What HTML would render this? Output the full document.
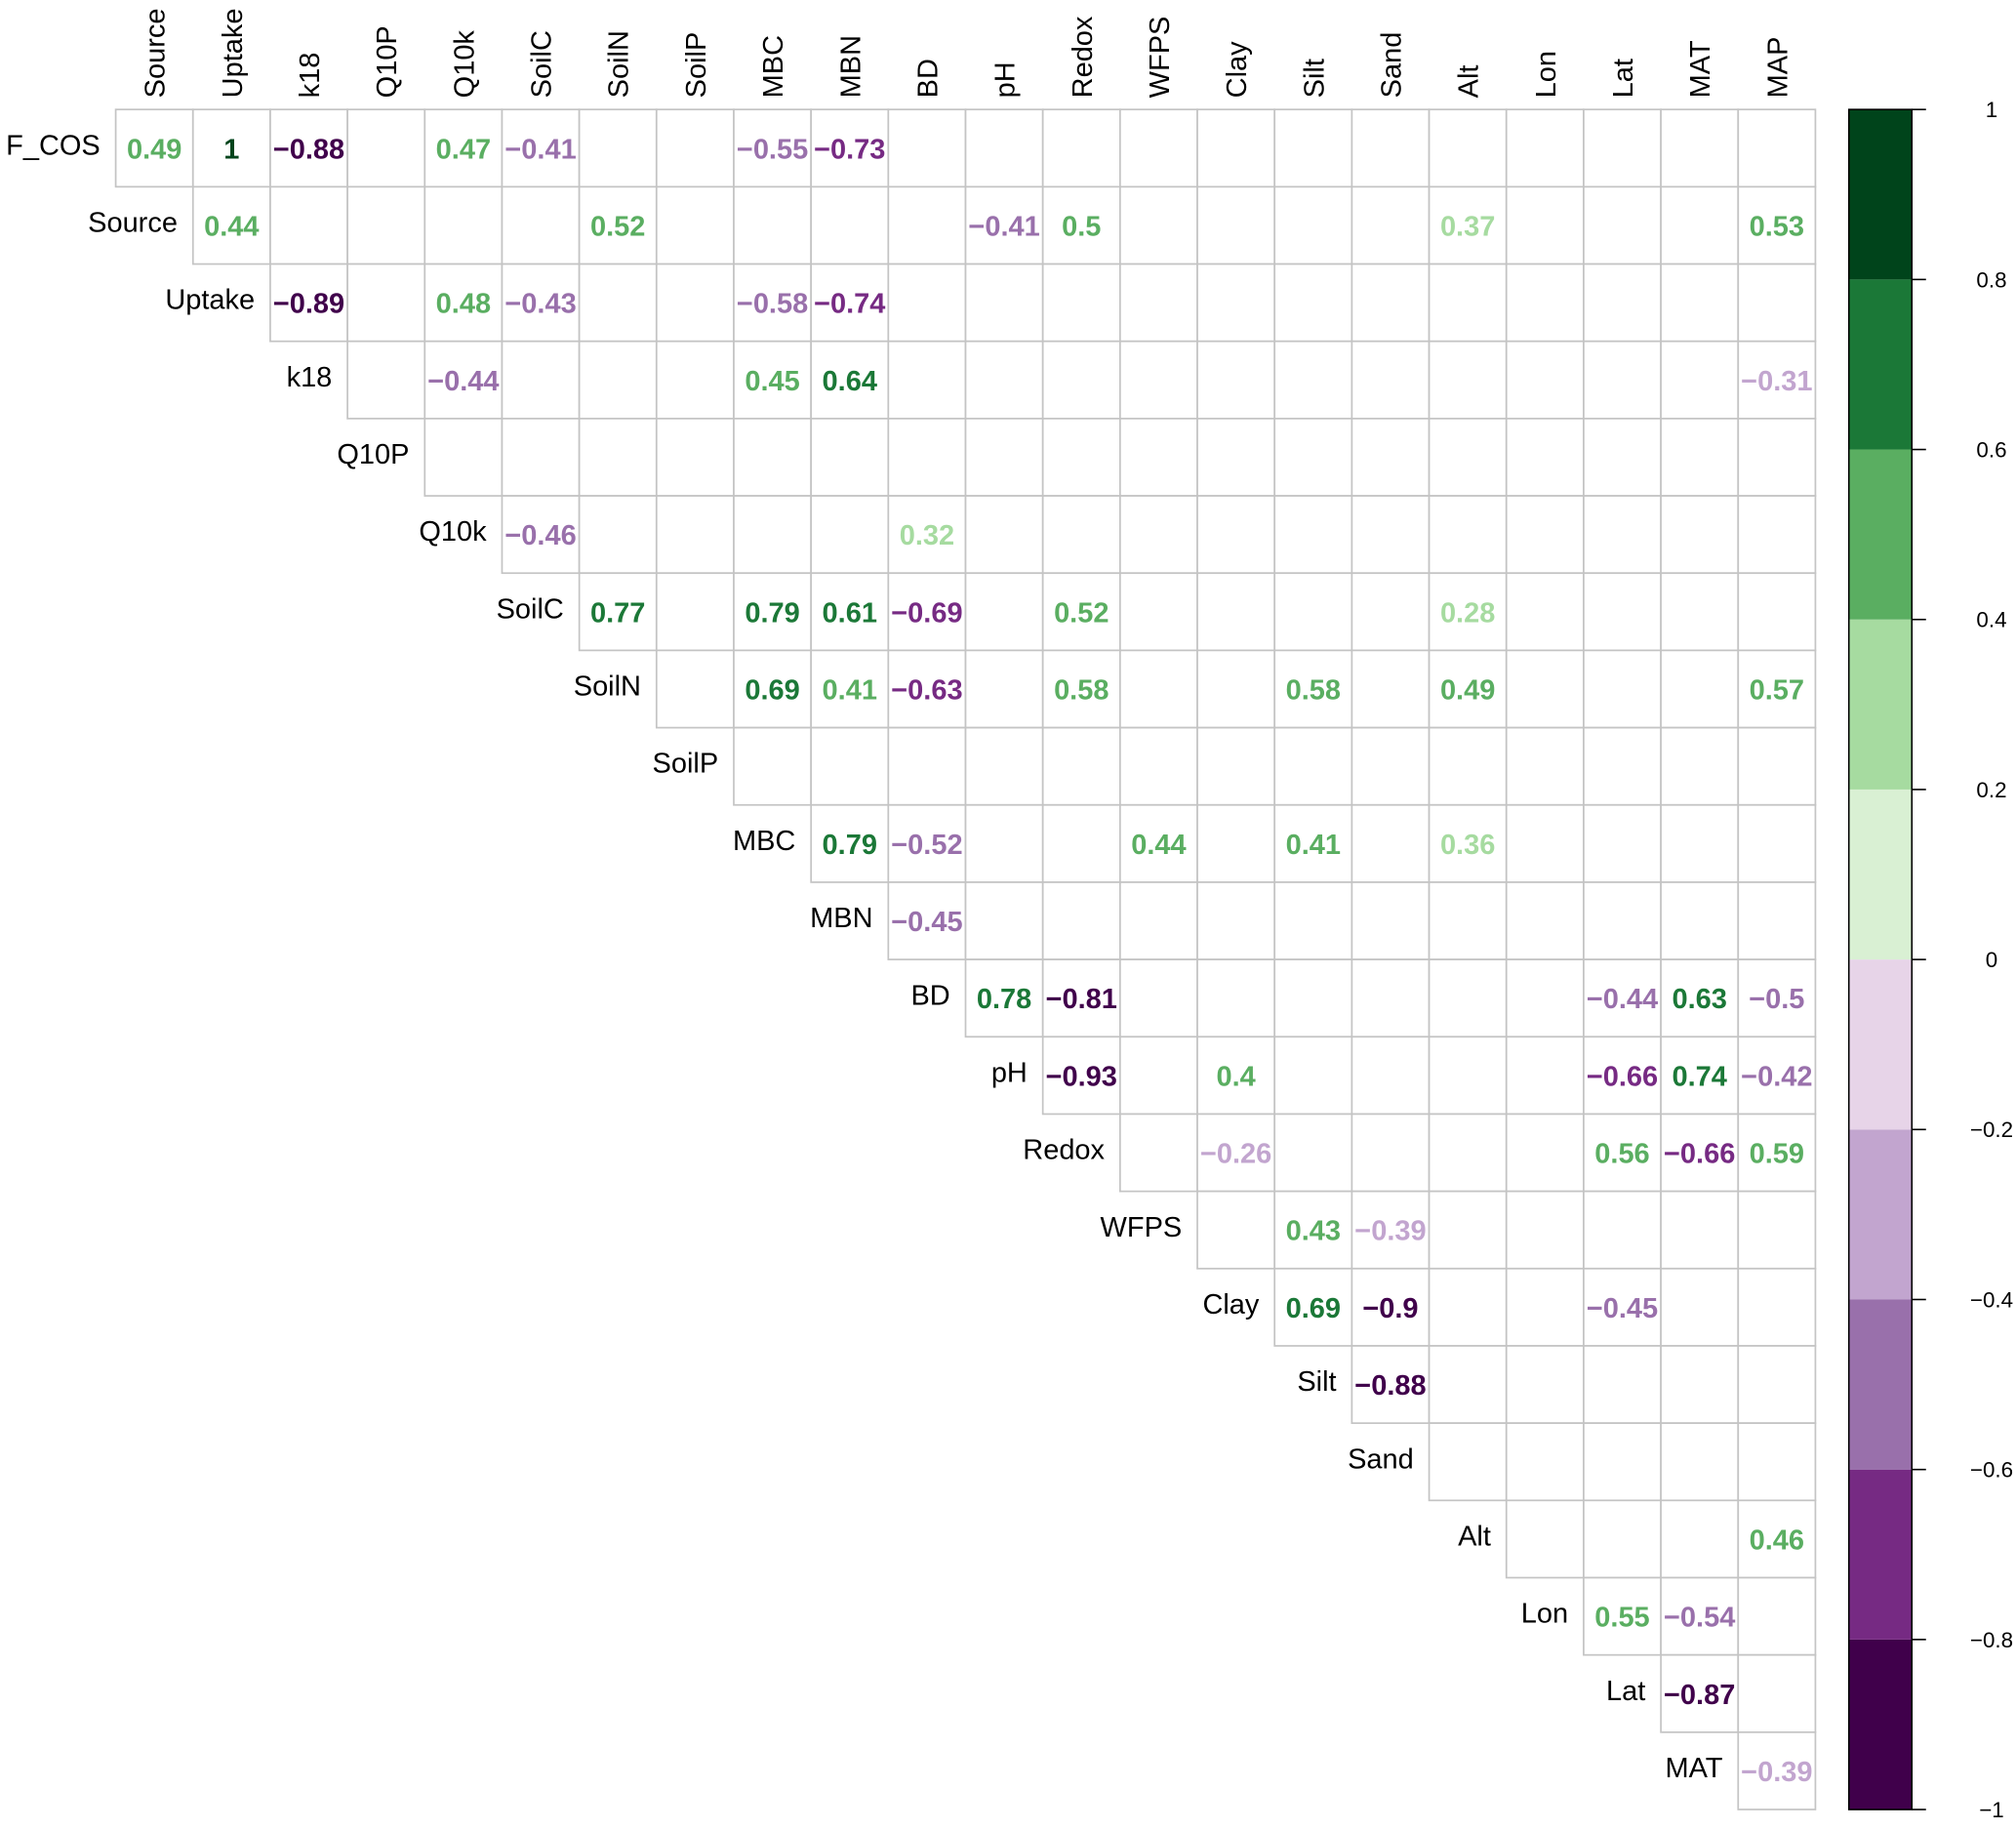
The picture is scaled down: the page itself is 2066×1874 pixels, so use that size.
<!DOCTYPE html>
<html><head><meta charset="utf-8"><style>
html,body{margin:0;padding:0;background:#fff;}
svg{display:block;font-family:"Liberation Sans",Arial,sans-serif;}
</style></head><body>
<svg id="chart" width="2066" height="1874" viewBox="0 0 1568 1422" xmlns="http://www.w3.org/2000/svg">
<g id="grid"></g>
<g id="vals"></g>
<g id="rlab"></g>
<g id="clab"></g>
<g id="cbar"></g>
</svg>
<script>
const rowNames = ["F_COS","Source","Uptake","k18","Q10P","Q10k","SoilC","SoilN","SoilP","MBC","MBN","BD","pH","Redox","WFPS","Clay","Silt","Sand","Alt","Lon","Lat","MAT"];
const colNames = ["Source","Uptake","k18","Q10P","Q10k","SoilC","SoilN","SoilP","MBC","MBN","BD","pH","Redox","WFPS","Clay","Silt","Sand","Alt","Lon","Lat","MAT","MAP"];
const cellRows = [0,0,0,0,0,0,0, 1,1,1,1,1,1, 2,2,2,2,2, 3,3,3,3, 5,5, 6,6,6,6,6,6, 7,7,7,7,7,7,7, 9,9,9,9,9, 10, 11,11,11,11,11, 12,12,12,12,12, 13,13,13,13, 14,14, 15,15,15, 16, 18, 19,19, 20, 21];
const cellCols = [0,1,2,4,5,8,9, 1,6,11,12,17,21, 2,4,5,8,9, 4,8,9,21, 5,10, 6,8,9,10,12,17, 8,9,10,12,15,17,21, 9,10,13,15,17, 10, 11,12,19,20,21, 12,14,19,20,21, 14,19,20,21, 15,16, 15,16,19, 16, 21, 19,20, 20, 21];
const cellValues = [0.49,1,-0.88,0.47,-0.41,-0.55,-0.73, 0.44,0.52,-0.41,0.5,0.37,0.53, -0.89,0.48,-0.43,-0.58,-0.74, -0.44,0.45,0.64,-0.31, -0.46,0.32, 0.77,0.79,0.61,-0.69,0.52,0.28, 0.69,0.41,-0.63,0.58,0.58,0.49,0.57, 0.79,-0.52,0.44,0.41,0.36, -0.45, 0.78,-0.81,-0.44,0.63,-0.5, -0.93,0.4,-0.66,0.74,-0.42, -0.26,0.56,-0.66,0.59, 0.43,-0.39, 0.69,-0.9,-0.45, -0.88, 0.46, 0.55,-0.54, -0.87, -0.39];
const legendTicks = [1,0.8,0.6,0.4,0.2,0,-0.2,-0.4,-0.6,-0.8,-1];
const palette = ["#40004b","#762a83","#9970ab","#c2a5cf","#e7d4e8","#d9f0d3","#a6dba0","#5aae61","#1b7837","#00441b"];

const NS="http://www.w3.org/2000/svg";
const X0=90, Y0=85, CW=60.09;
const xAt = j => X0 + j*CW;
const yAt = i => Y0 + i*CW;
const barTop=85, barBot=1407, barL=1438, barR=1487;
const yLeg = v => barTop + (1 - v)/2*(barBot-barTop);
function colorFor(v){ let k=Math.floor((v+1)/0.2 + 1e-6); if(k>9)k=9; if(k<0)k=0; return palette[k]; }
function mk(tag, attrs, parent){ const e=document.createElementNS(NS,tag); for(const k in attrs) e.setAttribute(k,attrs[k]); parent.appendChild(e); return e; }
const fmt = v => (v<0?"\u2212":"") + String(Math.abs(v));

const grid=document.getElementById('grid');
for(let i=0;i<rowNames.length;i++){
  for(let j=i;j<colNames.length;j++){
    const r=mk('rect',{x:xAt(j),y:yAt(i),width:CW,height:CW,fill:'#fff',stroke:'#c4c4c4','stroke-width':1.3},grid);
    
    
  }
}
const vals=document.getElementById('vals');
for(let n=0;n<cellValues.length;n++){
  const i=cellRows[n], j=cellCols[n], v=cellValues[n];
  const t=mk('text',{x:xAt(j)+CW/2,y:yAt(i)+CW/2+8,'text-anchor':'middle','font-size':22,'font-weight':'bold',fill:colorFor(v)},vals);
  t.textContent=fmt(v);
  
  
}
const rlab=document.getElementById('rlab');
rowNames.forEach((nm,i)=>{
  const t=mk('text',{x:xAt(i)-12,y:yAt(i)+CW/2+5,'text-anchor':'end','font-size':22,fill:'#000'},rlab);
  t.textContent=nm;
  
  
});
const clab=document.getElementById('clab');
colNames.forEach((nm,j)=>{
  const cx=xAt(j)+CW/2+8, cy=76;
  const t=mk('text',{x:cx,y:cy,transform:'rotate(-90 '+cx+' '+cy+')','text-anchor':'start','font-size':22,fill:'#000'},clab);
  t.textContent=nm;
  
  
});
const cbar=document.getElementById('cbar');
for(let k=0;k<palette.length;k++){
  const lo=-1+k*0.2, hi=lo+0.2;
  const r=mk('rect',{x:barL,y:yLeg(hi),width:barR-barL,height:yLeg(lo)-yLeg(hi),fill:palette[k]},cbar);
  
  
}
mk('rect',{x:barL,y:barTop,width:barR-barL,height:barBot-barTop,fill:'none',stroke:'#000','stroke-width':1.2},cbar);
legendTicks.forEach(v=>{
  const y=yLeg(v);
  mk('line',{x1:barR,x2:barR+11,y1:y,y2:y,stroke:'#000','stroke-width':1.2},cbar);
  const t=mk('text',{x:1549,y:y+6,'text-anchor':'middle','font-size':17,fill:'#000'},cbar);
  t.textContent=fmt(v);
  
  
});
</script>
</body></html>
